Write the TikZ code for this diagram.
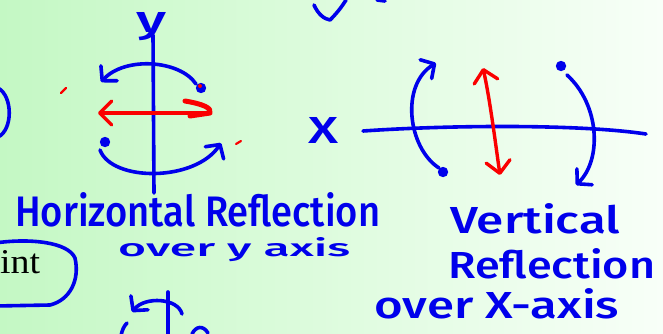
\documentclass[tikz,border=0pt]{standalone}
\usepackage{fontspec}
\setmainfont{Liberation Serif}
\newfontfamily\hand[UprightFont={* Medium}]{Fira Sans}
\usetikzlibrary{arrows.meta}
\definecolor{bgL}{RGB}{196,248,196}
\definecolor{bgR}{RGB}{248,255,248}
\definecolor{pen}{RGB}{0,0,235}
\definecolor{redpen}{RGB}{250,0,0}
\tikzset{
  bl/.style={draw=pen, line width=3.6pt, line cap=round, line join=round},
  rd/.style={draw=redpen, line width=3.4pt, line cap=round, line join=round},
  barb/.tip={Straight Barb[round, length=10pt, width=22pt, line width=3.6pt]},
  rbarb/.tip={Straight Barb[round, length=12pt, width=24pt, line width=3.4pt]},
  handtxt/.style={text=pen, inner sep=0pt, anchor=base west},
}
\begin{document}
\begin{tikzpicture}[x=1pt,y=-1pt]
\useasboundingbox (0,0) rectangle (663,333);
\shade[left color=bgL, right color=bgR] (0,0) rectangle (663,333);

% ---------- left panel: reflection over y axis ----------
\coordinate (ytop) at (153,35);
\coordinate (ybot) at (154,193);
\draw[bl] (ytop) -- (ybot);
\node[handtxt] (ylab) at (136,32) {\resizebox{30pt}{20pt}{\hand y}};

\coordinate (P1) at (201,88);
\coordinate (P1t) at (101,82);
\fill[pen] (P1) circle (5.2pt);
\fill[redpen] (200,86) circle (2pt);
\draw[bl, -barb] (196,84) .. controls (180,60) and (125,56) .. (P1t);

\coordinate (P2) at (105,142);
\coordinate (P2t) at (221,143);
\fill[pen] (P2) circle (5.2pt);
\draw[bl, -barb] (100,150) .. controls (112,182) and (195,182) .. (P2t);

\coordinate (hL) at (98,113);
\coordinate (hR) at (208,113);
\draw[rd, rbarb-] (hL) -- (hR);
\draw[rd, line width=5pt] (185,101) .. controls (203,104) and (212,108) .. (210,113) -- (190,116);

\draw[redpen, line width=2.2pt, line cap=round] (61,93) -- (66,88);
\draw[redpen, line width=2.2pt, line cap=round] (236,144) -- (241,141);

% fragment at left edge
\draw[bl] (-2,88) .. controls (13,96) and (13,130) .. (-2,137);

% X between panels
\node[handtxt] (xlab) at (308,143) {\resizebox{30pt}{26pt}{\hand X}};

% ---------- right panel: reflection over x axis ----------
\coordinate (xaL) at (363,131);
\coordinate (xaR) at (646,134);
\draw[bl] (xaL) .. controls (450,125) and (580,124) .. (xaR);

\coordinate (Q1) at (443,172);
\coordinate (Q1t) at (436,63);
\fill[pen] (Q1) circle (5.2pt);
\draw[bl, -barb] (439,168) .. controls (408,148) and (400,85) .. (Q1t);

\coordinate (Q2) at (561,66);
\coordinate (Q2t) at (576,185);
\fill[pen] (Q2) circle (5.2pt);
\draw[bl, -barb] (567,75) .. controls (600,105) and (602,160) .. (Q2t);

\coordinate (vT) at (483,68);
\coordinate (vB) at (500,175);
\draw[rd, rbarb-rbarb] (vT) .. controls (490,100) and (495,140) .. (vB);

% ---------- fragments at top ----------
\draw[bl] (314,5) .. controls (318,14) and (324,19) .. (330,20) .. controls (336,14) and (341,8) .. (346,0);
\draw[bl] (377,0) -- (385,1);

% ---------- captions ----------
\node[handtxt] (cap1) at (15,226) {\resizebox{365pt}{34pt}{\hand Horizontal Reflection}};
\node[handtxt] (cap2) at (118,256) {\resizebox{232pt}{19pt}{\hand over y axis}};
\node[handtxt] (cap3) at (450,233) {\resizebox{170pt}{30pt}{\hand Vertical}};
\node[handtxt] (cap4) at (448,278) {\resizebox{207pt}{30pt}{\hand Reflection}};
\node[handtxt] (cap5) at (374,318) {\resizebox{245pt}{30pt}{\hand over X-axis}};

% ---------- box with "int" ----------
\node[anchor=base west, inner sep=0pt] (intlab) at (0,273) {\resizebox{40pt}{23pt}{int}};
\draw[bl] (-5,243) .. controls (30,238) and (68,242) .. (75,258) .. controls (80,280) and (70,300) .. (50,305) -- (-5,306);

% ---------- fragment at bottom ----------
\coordinate (bv1) at (168,292);
\coordinate (bv2) at (168,336);
\draw[bl] (bv1) -- (bv2);
\coordinate (bt) at (132,312);
\draw[bl, -barb] (182,314) .. controls (178,298) and (145,296) .. (bt);
\draw[bl] (121,336) .. controls (122,330) and (124,326) .. (127,323);
\draw[bl] (192,334) .. controls (196,326) and (203,325) .. (208,333);
\end{tikzpicture}
\end{document}
